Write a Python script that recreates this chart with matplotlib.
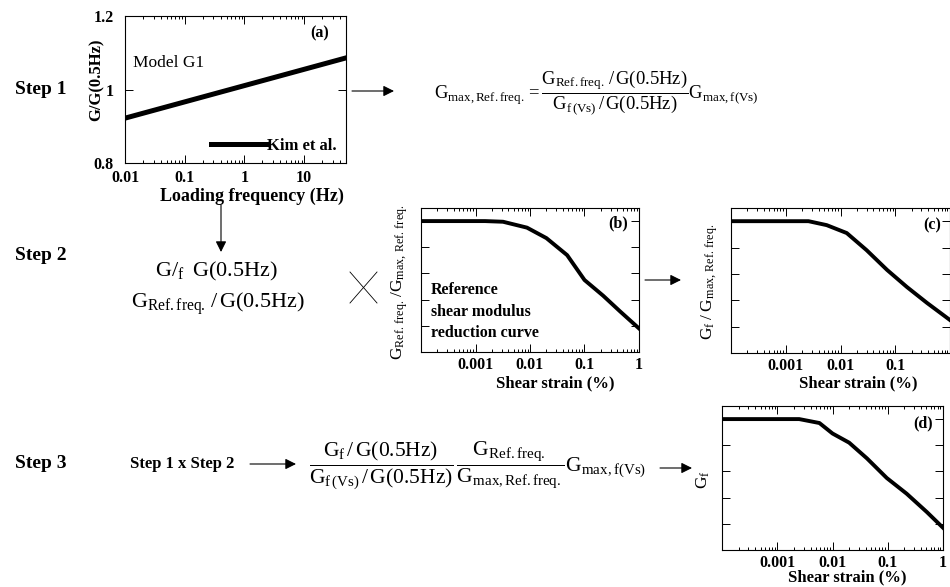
import matplotlib.pyplot as plt

plt.rcParams['font.family'] = 'Liberation Serif'
plt.rcParams['mathtext.fontset'] = 'custom'
plt.rcParams['mathtext.rm'] = 'Liberation Serif'
plt.rcParams['mathtext.it'] = 'Liberation Serif:italic'
plt.rcParams['mathtext.bf'] = 'Liberation Serif:bold'

W, H = 950, 587

# (a) G/G(0.5Hz) vs loading frequency, Kim et al.
freq = [0.01, 50]
g_ratio = [0.922, 1.086]
freq_ticks = [0.01, 0.1, 1, 10]
freq_labels = ['0.01', '0.1', '1', '10']
ratio_ticks = [0.8, 1.0, 1.2]
ratio_labels = ['0.8', '1', '1.2']

# shear modulus reduction curves
strain_ticks = [0.001, 0.01, 0.1, 1]
strain_labels = ['0.001', '0.01', '0.1', '1']
strain_labels_c = ['0.001', '0.01', '0.1', '']
mod_ticks = [0.2, 0.4, 0.6, 0.8, 1.0]

strain_b = [1e-4, 0.0015, 0.0032, 0.0088, 0.020, 0.048, 0.10, 0.22, 0.45, 1.0]
g_b = [1.0, 1.0, 0.995, 0.95, 0.87, 0.74, 0.55, 0.43, 0.31, 0.18]

strain_c = [1e-4, 0.0026, 0.0056, 0.013, 0.030, 0.071, 0.164, 0.38, 1.0]
g_c = [1.0, 1.0, 0.97, 0.91, 0.78, 0.63, 0.50, 0.38, 0.25]

strain_d = [1e-4, 0.0025, 0.0058, 0.010, 0.020, 0.042, 0.096, 0.22, 0.51, 1.0]
g_d = [1.0, 1.0, 0.97, 0.89, 0.82, 0.70, 0.55, 0.43, 0.29, 0.17]


def box(fig, l, t, r, b):
    return fig.add_axes([l / W, 1 - b / H, (r - l) / W, (b - t) / H])


def style(ax, xpad):
    ax.tick_params(which='both', direction='in', top=True, right=True, width=0.7)
    ax.tick_params(which='major', length=5.5)
    ax.tick_params(which='minor', length=2.5)
    ax.tick_params(axis='x', which='major', pad=xpad)
    for s in ax.spines.values():
        s.set_linewidth(0.8)


def strain_panel(ax, x, y, labels):
    ax.semilogx(x, y, color='k', lw=2.8)
    ax.set_xlim(1e-4, 1)
    ax.set_ylim(0, 1.1)
    ax.set_xticks(strain_ticks, labels, fontsize=11.5, fontweight='bold')
    ax.set_yticks(mod_ticks, [''] * len(mod_ticks))
    style(ax, 3.5)


fig = plt.figure(figsize=(9.5, 5.87), dpi=100)

# panel (a)
ax = box(fig, 125, 16, 346, 163)
ax.semilogx(freq, g_ratio, color='k', lw=3.6, label='Kim et al.')
ax.set_xlim(0.01, 50)
ax.set_ylim(0.8, 1.2)
ax.set_xticks(freq_ticks, freq_labels, fontsize=11.5, fontweight='bold')
ax.set_yticks(ratio_ticks, ratio_labels, fontsize=11.5, fontweight='bold')
style(ax, 5)
ax.tick_params(axis='y', which='major', pad=8)
ax.legend(loc='lower right', frameon=False, handlelength=3.3, handletextpad=0.05,
          borderaxespad=0.15, prop={'size': 12, 'weight': 'bold'})

# panels (b), (c), (d)
strain_panel(box(fig, 421, 208, 639, 352), strain_b, g_b, strain_labels)
strain_panel(box(fig, 731, 208, 950, 353), strain_c, g_c, strain_labels_c)
strain_panel(box(fig, 722, 406, 943, 550), strain_d, g_d, strain_labels)

# overlay in pixel coordinates for text and arrows
ov = fig.add_axes([0, 0, 1, 1])
ov.set_xlim(0, W)
ov.set_ylim(H, 0)
ov.axis('off')

bold = dict(fontweight='bold', fontsize=11.5)
ov.text(97, 80, 'G/G(0.5Hz)', rotation=90, ha='center', va='center', fontweight='bold', fontsize=12)
ov.text(252, 196, 'Loading frequency (Hz)', ha='center', va='center', fontweight='bold', fontsize=13)
ov.text(320, 33, '(a)', ha='center', va='center', **bold)
ov.text(133, 63, 'Model G1', ha='left', va='center', fontsize=12.5)

ov.text(618, 223, '(b)', ha='center', va='center', **bold)
ov.text(932, 225, '(c)', ha='center', va='center', **bold)
ov.text(923, 423, '(d)', ha='center', va='center', **bold)
for i, s in enumerate(['Reference', 'shear modulus', 'reduction curve']):
    ov.text(431, 290 + 21.5 * i, s, ha='left', va='center', **bold)

ov.text(555, 383, 'Shear strain (%)', ha='center', va='center', fontsize=12, fontweight='bold')
ov.text(858, 383, 'Shear strain (%)', ha='center', va='center', fontsize=12, fontweight='bold')
ov.text(847, 577, 'Shear strain (%)', ha='center', va='center', fontsize=12, fontweight='bold')

ov.text(400, 282, r'$\mathrm{G}_{\mathrm{Ref.\,freq.}}\,/\mathrm{G}_{\mathrm{max,\,Ref.\,freq.}}$',
        rotation=90, ha='center', va='center', fontsize=12.5)
ov.text(710, 282, r'$\mathrm{G}_{\mathrm{f}}\;/\;\mathrm{G}_{\mathrm{max,\,Ref.\,freq.}}$',
        rotation=90, ha='center', va='center', fontsize=12.5)
ov.text(703, 480, r'$\mathrm{G}_{\mathrm{f}}$', rotation=90, ha='center', va='center', fontsize=12.5)

# step labels
for y, s in [(90, 'Step 1'), (255, 'Step 2'), (463, 'Step 3')]:
    ov.text(15, y, s, ha='left', va='center', fontsize=14, fontweight='bold')
ov.text(130, 464, 'Step 1 x Step 2', ha='left', va='center', fontsize=12, fontweight='bold')

# equations
eq1 = (r'$\mathrm{G}_{\mathrm{max,Ref.freq.}}='
       r'\dfrac{\mathrm{G}_{\mathrm{Ref.freq.}}\,/\,\mathrm{G(0.5Hz)}}'
       r'{\mathrm{G}_{\mathrm{f\,(Vs)}}\,/\,\mathrm{G(0.5Hz)}}'
       r'\mathrm{G}_{\mathrm{max,f(Vs)}}$')
ov.text(596, 92, eq1, ha='center', va='center', fontsize=13.4)

ov.text(216, 271, r'$\mathrm{G}/_{\mathrm{f}}\;\;\mathrm{G(0.5Hz)}$', ha='center', va='center', fontsize=16)
ov.text(218, 304, r'$\mathrm{G}_{\mathrm{Ref.freq.}}\,/\,\mathrm{G(0.5Hz)}$', ha='center', va='center', fontsize=16)

eq3 = (r'$\dfrac{\mathrm{G}_{\mathrm{f}}\,/\,\mathrm{G(0.5Hz)}}'
       r'{\mathrm{G}_{\mathrm{f\,(Vs)}}\,/\,\mathrm{G(0.5Hz)}}\,'
       r'\dfrac{\mathrm{G}_{\mathrm{Ref.freq.}}}{\mathrm{G}_{\mathrm{max,Ref.freq.}}}'
       r'\mathrm{G}_{\mathrm{max,f(Vs)}}$')
ov.text(478, 466, eq3, ha='center', va='center', fontsize=15.5)

# cross sign
ov.plot([350, 377], [272, 303], color='k', lw=0.6)
ov.plot([350, 377], [303, 272], color='k', lw=0.6)

# arrows
arrow = dict(arrowstyle='-|>', color='k', lw=0.8, mutation_scale=16, shrinkA=0, shrinkB=0)
for (x0, y0), (x1, y1) in [((352, 91), (394, 91)),
                           ((221, 205), (221, 252)),
                           ((645, 280), (681, 280)),
                           ((250, 464), (296, 464)),
                           ((660, 468), (692, 468))]:
    ov.annotate('', xy=(x1, y1), xytext=(x0, y0), arrowprops=arrow)

fig.savefig('out.png', dpi=100)
